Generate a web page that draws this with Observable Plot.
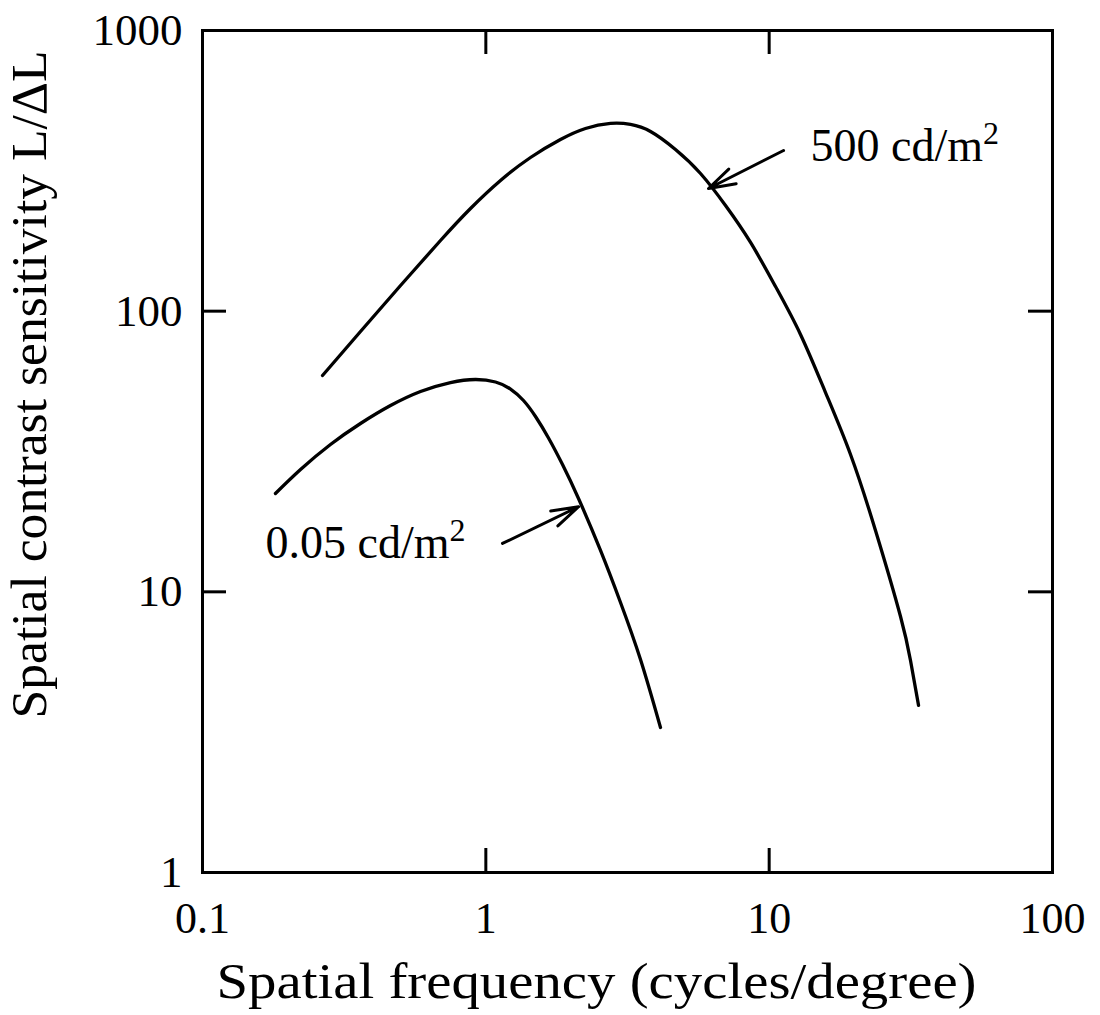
<!DOCTYPE html>
<html>
<head>
<meta charset="utf-8">
<script src="https://cdn.jsdelivr.net/npm/d3@7"></script>
<script src="https://cdn.jsdelivr.net/npm/@observablehq/plot@0.6"></script>
<style>
  html, body { margin: 0; padding: 0; background: #fff; }
  #chart { width: 1100px; height: 1015px; }
</style>
</head>
<body>
<div id="chart"></div>
<script>
// ---- data ----
const freqHigh = [0.2652, 0.3611, 0.500, 0.6918, 0.8829, 1.1266, 1.4377, 1.834, 2.247, 2.754, 3.240, 3.813, 4.670, 5.724, 7.015, 8.597, 10.53, 12.90, 15.81, 19.37, 23.73, 29.08, 31.54, 33.67];
const sensHigh = [58.98, 84.65, 123.4, 178.6, 232.2, 292.2, 352.8, 408.9, 447.6, 466.4, 462.6, 436.6, 376.7, 309.4, 237.9, 175.7, 122.4, 82.6, 51.3, 30.86, 16.54, 8.17, 5.69, 3.94];

const freqLow = [0.1809, 0.2218, 0.2829, 0.3611, 0.4609, 0.5881, 0.7502, 0.9195, 1.0817, 1.2223, 1.358, 1.4973, 1.6641, 1.8647, 2.1236, 2.5394, 2.9876, 3.5146, 4.1347];
const sensLow = [22.41, 27.28, 33.49, 39.79, 46.11, 51.74, 55.69, 57.08, 55.92, 52.80, 48.05, 42.14, 35.33, 28.42, 21.51, 14.04, 9.164, 5.741, 3.287];

const xTicks = [0.1, 1, 10, 100];
const yTicks = [1, 10, 100, 1000];

const labelTexts = ["500 cd/m²", "0.05 cd/m²"];
const labelX = [14.0, 0.167];
const labelY = [344, 13.15];

const arrowX1 = [11.24, 1.145];
const arrowY1 = [373.6, 14.87];
const arrowX2 = [6.11, 2.124];
const arrowY2 = [273.6, 20.1];

const xTitle = "Spatial frequency (cycles/degree)";
const yTitle = "Spatial contrast sensitivity L/ΔL";

// ---- tables built from the arrays ----
const high = freqHigh.map((f, i) => ({f, s: sensHigh[i]}));
const low = freqLow.map((f, i) => ({f, s: sensLow[i]}));
const labels = labelTexts.map((t, i) => ({t, x: labelX[i], y: labelY[i]}));
const arrows = arrowX1.map((x1, i) => ({x1, y1: arrowY1[i], x2: arrowX2[i], y2: arrowY2[i]}));
const innerX = xTicks.slice(1, -1);
const innerY = yTicks.slice(1, -1);

const W = 1100, H = 1015;
const mL = 202, mR = 48, mT = 30, mB = 143;
const plotH = H - mT - mB, plotW = W - mL - mR;
const TICK = 24;
const FONT = "'Liberation Serif', 'Times New Roman', Times, serif";

const chart = Plot.plot({
  width: W,
  height: H,
  marginLeft: mL,
  marginRight: mR,
  marginTop: mT,
  marginBottom: mB,
  style: {fontFamily: FONT, background: "#fff", color: "#000"},
  x: {type: "log", domain: [0.1, 100]},
  y: {type: "log", domain: [1, 1000]},
  marks: [
    // inward ticks on all four sides
    Plot.ruleX(innerX, {insetTop: plotH - TICK, stroke: "#000", strokeWidth: 3}),
    Plot.ruleX(innerX, {insetBottom: plotH - TICK, stroke: "#000", strokeWidth: 3}),
    Plot.ruleY(innerY, {insetRight: plotW - TICK, stroke: "#000", strokeWidth: 3}),
    Plot.ruleY(innerY, {insetLeft: plotW - TICK, stroke: "#000", strokeWidth: 3}),
    Plot.frame({stroke: "#000", strokeWidth: 3}),
    // tick labels
    Plot.axisX(xTicks, {anchor: "bottom", tickSize: 0, tickPadding: 29, fontSize: 44, tickFormat: d => String(d), label: null}),
    Plot.axisY(yTicks, {anchor: "left", tickSize: 0, tickPadding: 20, fontSize: 45, tickFormat: d => String(d), label: null}),
    // axis titles
    Plot.text([xTitle], {frameAnchor: "bottom-left", textAnchor: "start", lineAnchor: "bottom", dx: 14, dy: 125, fontSize: 50, fill: "#000"}),
    Plot.text([yTitle], {frameAnchor: "bottom-left", textAnchor: "start", lineAnchor: "bottom", rotate: -90, dx: -157, dy: -154, fontSize: 50, fill: "#000"}),
    // curves
    Plot.line(high, {x: "f", y: "s", stroke: "#000", strokeWidth: 3.3, curve: "natural"}),
    Plot.line(low, {x: "f", y: "s", stroke: "#000", strokeWidth: 3.3, curve: "natural"}),
    // annotations
    Plot.arrow(arrows, {x1: "x1", y1: "y1", x2: "x2", y2: "y2", stroke: "#000", strokeWidth: 3, headLength: 24, headAngle: 34, bend: 0}),
    Plot.text(labels, {x: "x", y: "y", text: "t", textAnchor: "start", lineAnchor: "bottom", fontSize: 46, fill: "#000"})
  ]
});

chart.querySelectorAll("text").forEach(t => {
  const s = t.textContent;
  if (s === xTitle) { t.setAttribute("textLength", 760); t.setAttribute("lengthAdjust", "spacingAndGlyphs"); }
  if (s === yTitle) { t.setAttribute("textLength", 668); t.setAttribute("lengthAdjust", "spacingAndGlyphs"); }
  if (labelTexts.includes(s) && s.endsWith("²")) {
    // render the squared unit with a real superscript 2
    t.textContent = s.slice(0, -1);
    const sup = document.createElementNS("http://www.w3.org/2000/svg", "tspan");
    sup.setAttribute("font-size", 32);
    sup.setAttribute("dy", -17);
    sup.textContent = "2";
    t.appendChild(sup);
  }
});

document.getElementById("chart").appendChild(chart);
</script>
</body>
</html>
